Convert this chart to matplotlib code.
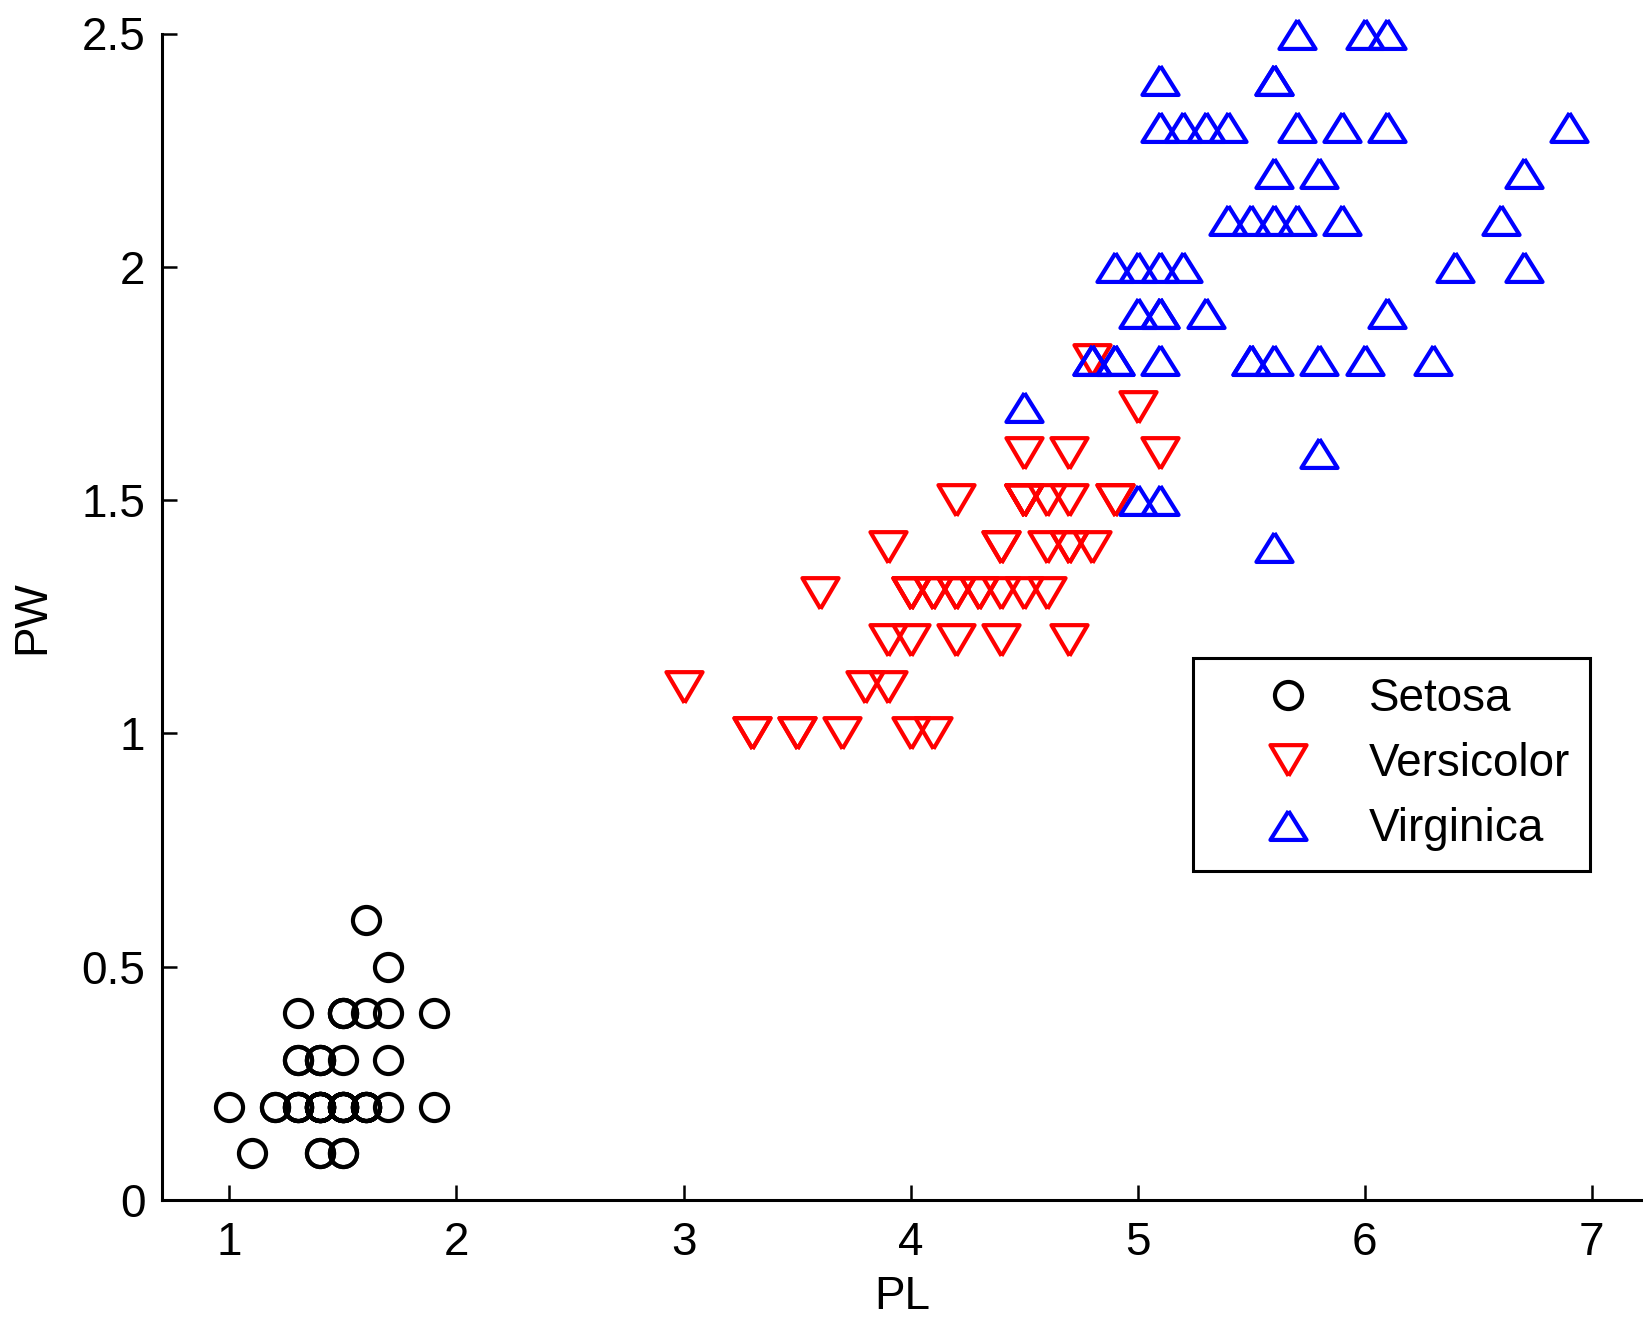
import matplotlib
matplotlib.use("Agg")
import matplotlib.pyplot as plt
from matplotlib.markers import MarkerStyle

# Iris petal length (PL) / petal width (PW)
setosa_pl = [1.4, 1.4, 1.3, 1.5, 1.4, 1.7, 1.4, 1.5, 1.4, 1.5, 1.5, 1.6, 1.4, 1.1, 1.2, 1.5, 1.3, 1.4, 1.7, 1.5,
             1.7, 1.5, 1.0, 1.7, 1.9, 1.6, 1.6, 1.5, 1.4, 1.6, 1.6, 1.5, 1.5, 1.4, 1.5, 1.2, 1.3, 1.4, 1.3, 1.5,
             1.3, 1.3, 1.3, 1.6, 1.9, 1.4, 1.6, 1.4, 1.5, 1.4]
setosa_pw = [0.2, 0.2, 0.2, 0.2, 0.2, 0.4, 0.3, 0.2, 0.2, 0.1, 0.2, 0.2, 0.1, 0.1, 0.2, 0.4, 0.4, 0.3, 0.3, 0.3,
             0.2, 0.4, 0.2, 0.5, 0.2, 0.2, 0.4, 0.2, 0.2, 0.2, 0.2, 0.4, 0.1, 0.2, 0.2, 0.2, 0.2, 0.1, 0.2, 0.2,
             0.3, 0.3, 0.2, 0.6, 0.4, 0.3, 0.2, 0.2, 0.2, 0.2]
versicolor_pl = [4.7, 4.5, 4.9, 4.0, 4.6, 4.5, 4.7, 3.3, 4.6, 3.9, 3.5, 4.2, 4.0, 4.7, 3.6, 4.4, 4.5, 4.1, 4.5, 3.9,
                 4.8, 4.0, 4.9, 4.7, 4.3, 4.4, 4.8, 5.0, 4.5, 3.5, 3.8, 3.7, 3.9, 5.1, 4.5, 4.5, 4.7, 4.4, 4.1, 4.0,
                 4.4, 4.6, 4.0, 3.3, 4.2, 4.2, 4.2, 4.3, 3.0, 4.1]
versicolor_pw = [1.4, 1.5, 1.5, 1.3, 1.5, 1.3, 1.6, 1.0, 1.3, 1.4, 1.0, 1.5, 1.0, 1.4, 1.3, 1.4, 1.5, 1.0, 1.5, 1.1,
                 1.8, 1.3, 1.5, 1.2, 1.3, 1.4, 1.4, 1.7, 1.5, 1.0, 1.1, 1.0, 1.2, 1.6, 1.5, 1.6, 1.5, 1.3, 1.3, 1.3,
                 1.2, 1.4, 1.2, 1.0, 1.3, 1.2, 1.3, 1.3, 1.1, 1.3]
virginica_pl = [6.0, 5.1, 5.9, 5.6, 5.8, 6.6, 4.5, 6.3, 5.8, 6.1, 5.1, 5.3, 5.5, 5.0, 5.1, 5.3, 5.5, 6.7, 6.9, 5.0,
                5.7, 4.9, 6.7, 4.9, 5.7, 6.0, 4.8, 4.9, 5.6, 5.8, 6.1, 6.4, 5.6, 5.1, 5.6, 6.1, 5.6, 5.5, 4.8, 5.4,
                5.6, 5.1, 5.1, 5.9, 5.7, 5.2, 5.0, 5.2, 5.4, 5.1]
virginica_pw = [2.5, 1.9, 2.1, 1.8, 2.2, 2.1, 1.7, 1.8, 1.8, 2.5, 2.0, 1.9, 2.1, 2.0, 2.4, 2.3, 1.8, 2.2, 2.3, 1.5,
                2.3, 2.0, 2.0, 1.8, 2.1, 1.8, 1.8, 1.8, 2.1, 1.6, 1.9, 2.0, 2.2, 1.5, 1.4, 2.3, 2.4, 1.8, 1.8, 2.1,
                2.4, 2.3, 1.9, 2.3, 2.5, 2.3, 1.9, 2.0, 2.3, 1.8]

series_labels = ["Setosa", "Versicolor", "Virginica"]
x_ticks = [1, 2, 3, 4, 5, 6, 7]
y_ticks = [0, 0.5, 1, 1.5, 2, 2.5]
y_tick_labels = ["0", "0.5", "1", "1.5", "2", "2.5"]

FONT = "Liberation Sans"
FS = 33

W, H = 1643, 1319
fig = plt.figure(figsize=(W / 100, H / 100), dpi=100)
ax = fig.add_axes([162 / W, 1 - 1200 / H, 1 - 162 / W, (1200 - 33.5) / H])

up = MarkerStyle([(0, 0.8), (-1, -0.8), (1, -0.8), (0, 0.8)], joinstyle="miter")
down = MarkerStyle([(0, -0.85), (-1, 0.85), (1, 0.85), (0, -0.85)], joinstyle="miter")

ax.plot(setosa_pl, setosa_pw, linestyle="none", marker="o", ms=19.5, mfc="none",
        mec="black", mew=3.0, clip_on=False, label=series_labels[0])
ax.plot(versicolor_pl, versicolor_pw, linestyle="none", marker=down, ms=26, mfc="none",
        mec="#ff0000", mew=3.0, clip_on=False, label=series_labels[1])
ax.plot(virginica_pl, virginica_pw, linestyle="none", marker=up, ms=26, mfc="none",
        mec="#0000ff", mew=3.0, clip_on=False, label=series_labels[2])

ax.set_xlim(0.703, 7.226)
ax.set_ylim(0, 2.5)
ax.set_xticks(x_ticks)
ax.set_xticklabels([str(v) for v in x_ticks])
ax.set_yticks(y_ticks)
ax.set_yticklabels(y_tick_labels)

for s in ["top", "right"]:
    ax.spines[s].set_visible(False)
for s in ["left", "bottom"]:
    ax.spines[s].set_linewidth(2.2)

ax.tick_params(direction="in", length=10.8, width=1.8, labelsize=FS, color="black")
ax.tick_params(axis="y", pad=12)
ax.tick_params(axis="x", pad=15)
for lab in ax.get_xticklabels() + ax.get_yticklabels():
    lab.set_fontfamily(FONT)

ax.set_xlabel("PL", fontsize=FS, fontfamily=FONT)
ax.set_ylabel("PW", fontsize=FS, fontfamily=FONT)
ax.xaxis.set_label_coords(0.5, -0.064)
ax.yaxis.set_label_coords(-0.073, 0.5)

leg = ax.legend(loc="upper left", bbox_to_anchor=(1193 / W, 1 - 658 / H),
                bbox_transform=fig.transFigure, frameon=True, fancybox=False,
                edgecolor="black", framealpha=1, borderpad=0.42, handlelength=3.3,
                handletextpad=0.12, labelspacing=0.46, borderaxespad=0,
                prop={"family": FONT, "size": FS})
leg.get_frame().set_linewidth(2.2)

fig.savefig("out.png", dpi=100)
